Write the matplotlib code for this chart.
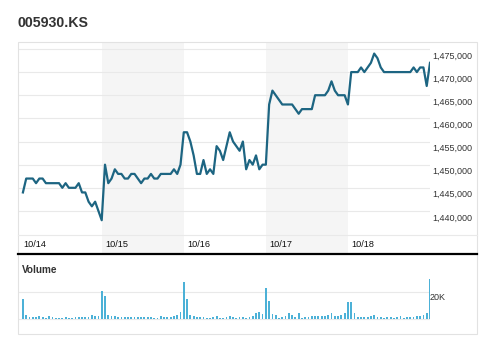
import numpy as np
import matplotlib
matplotlib.use("Agg")
import matplotlib.pyplot as plt
import matplotlib.transforms as mtransforms
from matplotlib.patches import Rectangle
from matplotlib.lines import Line2D
from matplotlib.ticker import FuncFormatter

plt.rcParams['font.family'] = ['Liberation Sans', 'DejaVu Sans']

days = ["10/14", "10/15", "10/16", "10/17", "10/18"]

# price, thousands of KRW, 25 points per day
price_d1 = [1444, 1447, 1447, 1447, 1446, 1447, 1447, 1446, 1446, 1446, 1446, 1446, 1445,
            1446, 1445, 1445, 1445, 1446, 1444, 1444, 1442, 1441, 1442, 1440, 1438]
price_d2 = [1450, 1446, 1447, 1449, 1448, 1448, 1447, 1447, 1448, 1448, 1447, 1446, 1447,
            1447, 1448, 1447, 1447, 1448, 1448, 1448, 1448, 1449, 1448, 1450, 1457]
price_d3 = [1457, 1455, 1452, 1448, 1448, 1451, 1448, 1449, 1448, 1454, 1453, 1451, 1454,
            1457, 1455, 1454, 1453, 1455, 1449, 1451, 1450, 1452, 1449, 1450, 1450]
price_d4 = [1463, 1466, 1465, 1464, 1463, 1463, 1463, 1463, 1462, 1461, 1462, 1462, 1462,
            1462, 1465, 1465, 1465, 1465, 1466, 1468, 1466, 1465, 1465, 1465, 1463]
price_d5 = [1470, 1470, 1470, 1471, 1470, 1471, 1472, 1474, 1473, 1471, 1470, 1470, 1470,
            1470, 1470, 1470, 1470, 1470, 1470, 1471, 1470, 1471, 1471, 1467, 1472]

# volume, thousands of shares
vol_d1 = [14.6, 2.9, 1.2, 1.2, 1.2, 2.0, 1.2, 0.7, 2.0, 1.2, 0.7, 0.7, 0.7,
          1.2, 0.5, 0.4, 1.2, 1.7, 1.2, 1.2, 1.7, 2.9, 2.4, 2.4, 20.4]
vol_d2 = [16.7, 3.2, 2.4, 2.4, 1.7, 1.2, 1.2, 1.7, 1.2, 1.2, 1.2, 1.2, 1.2,
          1.7, 1.2, 0.7, 0.7, 2.0, 1.7, 1.7, 1.2, 2.4, 2.9, 4.9, 27.7]
vol_d3 = [14.6, 2.9, 2.4, 1.2, 1.7, 1.7, 0.7, 0.7, 1.2, 2.0, 0.7, 0.7, 1.2,
          2.0, 1.2, 0.7, 1.2, 1.2, 0.7, 1.2, 2.0, 4.4, 4.9, 3.7, 22.7]
vol_d4 = [13.2, 3.7, 3.2, 0.7, 1.2, 2.0, 4.1, 2.7, 1.2, 4.1, 0.7, 1.2, 1.2,
          2.4, 2.4, 2.4, 2.0, 2.4, 2.9, 4.1, 2.4, 2.4, 3.2, 4.4, 12.4]
vol_d5 = [12.4, 4.4, 1.7, 1.7, 1.2, 1.7, 2.0, 2.9, 1.2, 1.7, 0.7, 1.2, 1.7,
          0.7, 1.7, 2.0, 0.7, 1.2, 1.2, 1.7, 2.0, 2.4, 3.2, 4.1, 29.8]

price = np.array(price_d1 + price_d2 + price_d3 + price_d4 + price_d5) * 1000
volume = np.array(vol_d1 + vol_d2 + vol_d3 + vol_d4 + vol_d5) * 1000
x = np.arange(len(price)) + 1

W, H = 496, 354
fig = plt.figure(figsize=(W / 100, H / 100), dpi=100)


def box(left, top, right, bottom):
    return [left / W, 1 - bottom / H, (right - left) / W, (bottom - top) / H]


ax1 = fig.add_axes(box(18, 42, 430, 254))
ax2 = fig.add_axes(box(18, 254, 430, 334))

line_color = "#1d6582"
bar_color = "#4cb1d7"
grid_color = "#e9e9e9"
text_color = "#333333"

# price panel
for d in (1, 3):
    ax1.axvspan(25 * d, 25 * d + 25, color="#f5f5f5", lw=0, zorder=0)
ax1.plot(x, price, color=line_color, lw=1.6, solid_joinstyle="round", zorder=3)
ax1.set_xlim(-0.5, 125)
ax1.set_ylim(1430700, 1476500)
ax1.set_xticks([])
ax1.set_yticks(np.arange(1440000, 1475001, 5000))
ax1.yaxis.set_major_formatter(FuncFormatter(lambda v, p: f"{v:,.0f}"))
ax1.tick_params(axis="y", length=0, left=False, labelleft=False, labelright=True,
                pad=1.5, labelsize=6.5, labelcolor=text_color)
ax1.grid(axis="y", color=grid_color, lw=0.8, zorder=1)
ax1.set_axisbelow(True)

offset = mtransforms.ScaledTranslation(0, -0.06, fig.dpi_scale_trans)
for lab in ax1.get_yticklabels():
    lab.set_transform(lab.get_transform() + offset)

for i, day in enumerate(days):
    ax1.text(25 * i + 1, 0.045, day, transform=ax1.get_xaxis_transform(),
             ha="left", va="center", fontsize=6.6, color="#111111")

# volume panel
ax2.bar(x, volume, width=0.55, color=bar_color, lw=0, zorder=3)
ax2.set_xlim(-0.5, 125)
ax2.set_ylim(-11100, 48100)
ax2.set_xticks([])
ax2.set_yticks([0, 20000])
ax2.set_yticklabels(["", "20K"])
ax2.tick_params(axis="y", length=0, left=False, labelleft=False, labelright=True,
                pad=0, labelsize=6.5, labelcolor=text_color)
ax2.grid(axis="y", color=grid_color, lw=0.8, zorder=1)
ax2.set_axisbelow(True)
offset2 = mtransforms.ScaledTranslation(0, -0.05, fig.dpi_scale_trans)
for lab in ax2.get_yticklabels():
    lab.set_transform(lab.get_transform() + offset2)
ax2.text(0.01, 0.8, "Volume", transform=ax2.transAxes, fontsize=7.2,
         fontweight="bold", color=text_color, ha="left", va="center")

for a in (ax1, ax2):
    for s in a.spines.values():
        s.set_visible(False)
    a.patch.set_alpha(0)

# frame, separator lines
fig.add_artist(Rectangle((18 / W, 1 - 334 / H), 459 / W, 292 / H, fill=False,
                         ec="#e2e2e2", lw=0.8, transform=fig.transFigure))
fig.add_artist(Line2D([18 / W, 477 / W], [1 - 235 / H] * 2, color=grid_color, lw=0.8))
fig.add_artist(Line2D([18 / W, 477 / W], [1 - 254 / H] * 2, color="black", lw=1.6))

fig.text(18 / W, 1 - 23 / H, "005930.KS", fontsize=10.2, fontweight="bold",
         color=text_color, ha="left", va="center")

fig.savefig("out.png", dpi=100)
